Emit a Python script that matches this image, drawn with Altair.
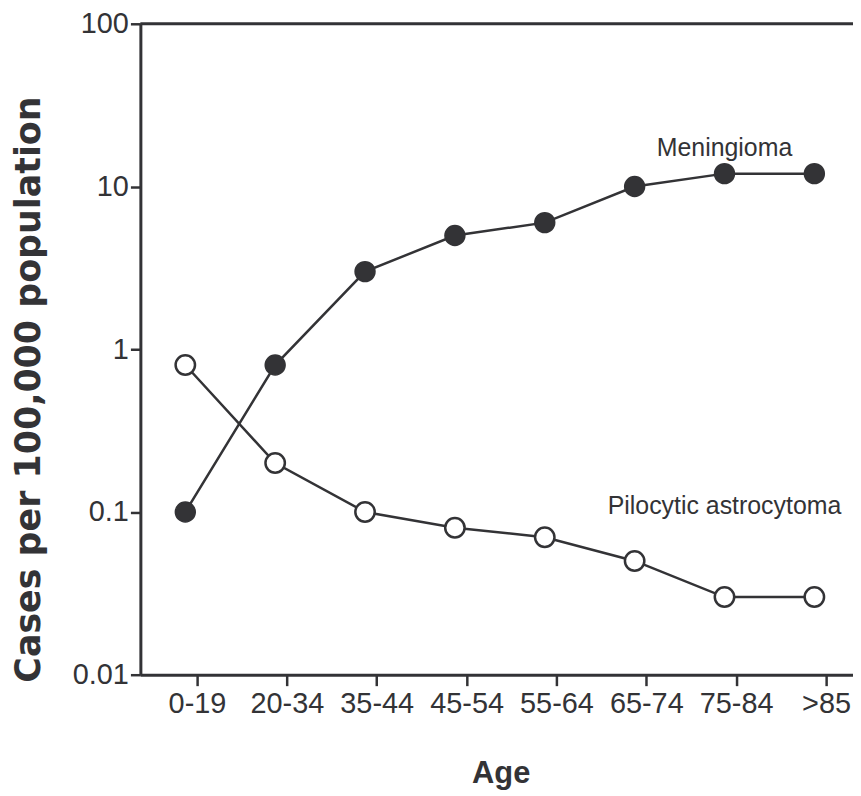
import json
import altair as alt
import pandas as pd

# ---- data ----
ages = ["0-19", "20-34", "35-44", "45-54", "55-64", "65-74", "75-84", ">85"]
meningioma = [0.1, 0.8, 3, 5, 6, 10, 12, 12]
pilocytic = [0.8, 0.2, 0.1, 0.08, 0.07, 0.05, 0.03, 0.03]
series_names = ["Meningioma", "Pilocytic astrocytoma"]
y_ticks = [0.01, 0.1, 1, 10, 100]
# annotation anchors (category index, value)
label_idx = [6, 6]
label_val = [15.4, 0.097]

rows = []
for i, a in enumerate(ages):
    rows.append({"idx": i, "age": a, "value": meningioma[i], "series": series_names[0]})
    rows.append({"idx": i, "age": a, "value": pilocytic[i], "series": series_names[1]})
df = pd.DataFrame(rows)
lab = pd.DataFrame({"idx": label_idx, "value": label_val, "text": series_names})

INK = "#333336"
FONT = "Liberation Sans"
W, H = 716, 654
TICK_SHIFT = 0.13

x_scale = alt.Scale(domain=[-0.5, 7.43], nice=False, zero=False)
y_scale = alt.Scale(type="log", domain=[0.01, 100], nice=False)

x_axis = alt.Axis(
    values=[i + TICK_SHIFT for i in range(len(ages))],
    labelExpr=f"{json.dumps(ages)}[round(datum.value - {TICK_SHIFT})]",
    title="Age",
    titleFont=FONT, titleFontSize=31, titleFontWeight="bold", titleColor=INK,
    titleX=362, titleY=108, titleAlign="center", titleBaseline="alphabetic",
    labelFont=FONT, labelFontSize=29, labelColor=INK, labelPadding=4,
    tickSize=11, tickWidth=2.5, tickColor=INK,
    domainColor=INK, domainWidth=3, grid=False,
)
y_axis = alt.Axis(
    values=y_ticks, format="~g",
    title="Cases per 100,000 population",
    titleFont="DejaVu Sans", titleFontSize=35, titleFontWeight="bold", titleColor=INK,
    titleX=-112, titleY=367, titleAlign="center", titleBaseline="middle", titleAngle=-90,
    labelFont=FONT, labelFontSize=29, labelColor=INK, labelPadding=2,
    tickSize=10, tickWidth=2.5, tickColor=INK,
    domainColor=INK, domainWidth=3, grid=False,
)

base = alt.Chart(df)

lines = base.mark_line(color=INK, strokeWidth=2.5).encode(
    x=alt.X("idx:Q", scale=x_scale, axis=x_axis),
    y=alt.Y("value:Q", scale=y_scale, axis=y_axis),
    detail="series:N",
)

top_rule = alt.Chart(pd.DataFrame({"v": [100]})).mark_rule(color=INK, strokeWidth=3).encode(
    y=alt.Y("v:Q", scale=y_scale), x=alt.value(0), x2=alt.value(W)
)

pts_m = base.transform_filter(alt.datum.series == series_names[0]).mark_point(
    shape="circle", size=400, filled=True, fill=INK, stroke=INK, strokeWidth=1.5, opacity=1
).encode(x=alt.X("idx:Q", scale=x_scale), y=alt.Y("value:Q", scale=y_scale))

pts_p = base.transform_filter(alt.datum.series == series_names[1]).mark_point(
    shape="circle", size=380, filled=True, fill="white", stroke=INK, strokeWidth=2.5, opacity=1
).encode(x=alt.X("idx:Q", scale=x_scale), y=alt.Y("value:Q", scale=y_scale))

labels = alt.Chart(lab).mark_text(
    font=FONT, fontSize=25, color=INK, align="center", baseline="alphabetic"
).encode(x=alt.X("idx:Q", scale=x_scale), y=alt.Y("value:Q", scale=y_scale), text="text:N")

chart = alt.layer(lines, top_rule, pts_m, pts_p, labels).properties(
    width=W, height=H,
    autosize=alt.AutoSizeParams(type="none"),
    padding={"left": 133, "top": 14, "right": 0, "bottom": 120},
).configure_view(stroke=None).configure(background="white")

chart.save("out.html", embed_options={"renderer": "svg", "actions": False})
